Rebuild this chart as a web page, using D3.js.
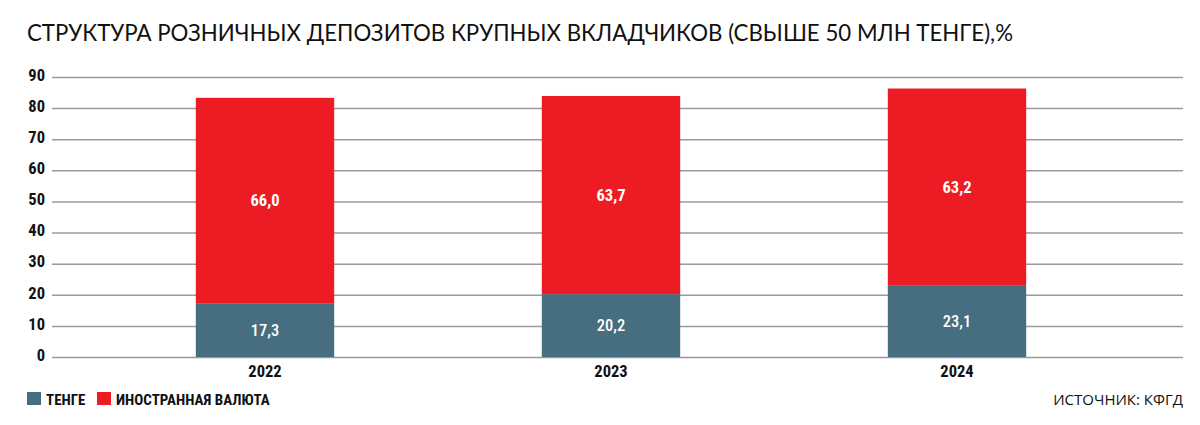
<!DOCTYPE html>
<html><head><meta charset="utf-8">
<script src="https://cdn.jsdelivr.net/npm/d3@7"></script>
<style>
body{margin:0;background:#fff;}
svg{display:block;}
</style></head><body>
<svg id="c" width="1200" height="425"></svg>
<script>
const years = ["2022", "2023", "2024"];
const tenge = [17.3, 20.2, 23.1];
const foreign = [66.0, 63.7, 63.2];
const yTicks = [0, 10, 20, 30, 40, 50, 60, 70, 80, 90];
const seriesNames = ["ТЕНГЕ", "ИНОСТРАННАЯ ВАЛЮТА"];
const colors = ["#476e80", "#ed1c24"];
const title = "СТРУКТУРА РОЗНИЧНЫХ ДЕПОЗИТОВ КРУПНЫХ ВКЛАДЧИКОВ (СВЫШЕ 50 МЛН ТЕНГЕ),%";
const source = "ИСТОЧНИК: КФГД";

const svg = d3.select("#c");
const condensed = "'Liberation Sans Narrow','Roboto Condensed','Roboto',sans-serif";

const x = d3.scaleBand().domain(years).range([92, 1130]).paddingInner(0.6).paddingOuter(0.3);
const y = d3.scaleLinear().domain([0, 90]).range([357, 77]);

const t = svg.append("text").attr("x", 27).attr("y", 41)
  .attr("font-family", "'Lato','Noto Sans',sans-serif").attr("font-size", 26)
  .attr("fill", "#111").text(title);
const w = t.node().getComputedTextLength();
if (w > 0) t.attr("font-size", Math.min(30, 26 * 986 / w));

// grid
const yAxis = d3.axisLeft(y).tickValues(yTicks).tickSize(-(1183 - 52)).tickFormat(d3.format("d"));
const g = svg.append("g").attr("transform", "translate(52,0)").call(yAxis);
g.select(".domain").remove();
g.selectAll(".tick line").attr("stroke", "#9a9a9a").attr("stroke-width", 1.5);
g.selectAll(".tick text").attr("x", -7).attr("dy", "0.2em").attr("fill", "#111")
  .attr("font-family", condensed).attr("font-weight", "bold").attr("font-size", 16.5);

const data = years.map((yr, i) => ({yr, parts: [[0, tenge[i]], [tenge[i], tenge[i] + foreign[i]]], vals: [tenge[i], foreign[i]]}));

data.forEach(d => {
  d.parts.forEach((p, k) => {
    svg.append("rect").attr("x", x(d.yr)).attr("width", x.bandwidth())
      .attr("y", y(p[1])).attr("height", y(p[0]) - y(p[1])).attr("fill", colors[k]);
    svg.append("text").attr("x", x(d.yr) + x.bandwidth() / 2).attr("y", y((p[0] + p[1]) / 2))
      .attr("dy", "0.35em").attr("text-anchor", "middle").attr("fill", "#fff")
      .attr("font-family", condensed).attr("font-weight", k === 1 ? "bold" : "500").attr("font-size", 16.5)
      .text(d3.format(".1f")(d.vals[k]).replace(".", ","));
  });
});

const xAxis = d3.axisBottom(x).tickSize(0);
const gx = svg.append("g").attr("transform", "translate(0,357)").call(xAxis);
gx.select(".domain").remove();
gx.selectAll(".tick text").attr("dy", 0).attr("y", 20).attr("fill", "#111")
  .attr("font-family", condensed).attr("font-weight", "bold").attr("font-size", 16.5);

// legend
const legX = [27, 97];
seriesNames.forEach((n, i) => {
  svg.append("rect").attr("x", legX[i]).attr("y", 392).attr("width", 14).attr("height", 13).attr("fill", colors[i]);
  svg.append("text").attr("x", legX[i] + 19).attr("y", 405).attr("fill", "#111")
    .attr("font-family", condensed).attr("font-weight", "bold").attr("font-size", 15).text(n);
});

svg.append("text").attr("x", 1183).attr("y", 405).attr("text-anchor", "end").attr("fill", "#111")
  .attr("font-family", "'Open Sans','Noto Sans',sans-serif").attr("font-size", 15).text(source);
</script>
</body></html>
